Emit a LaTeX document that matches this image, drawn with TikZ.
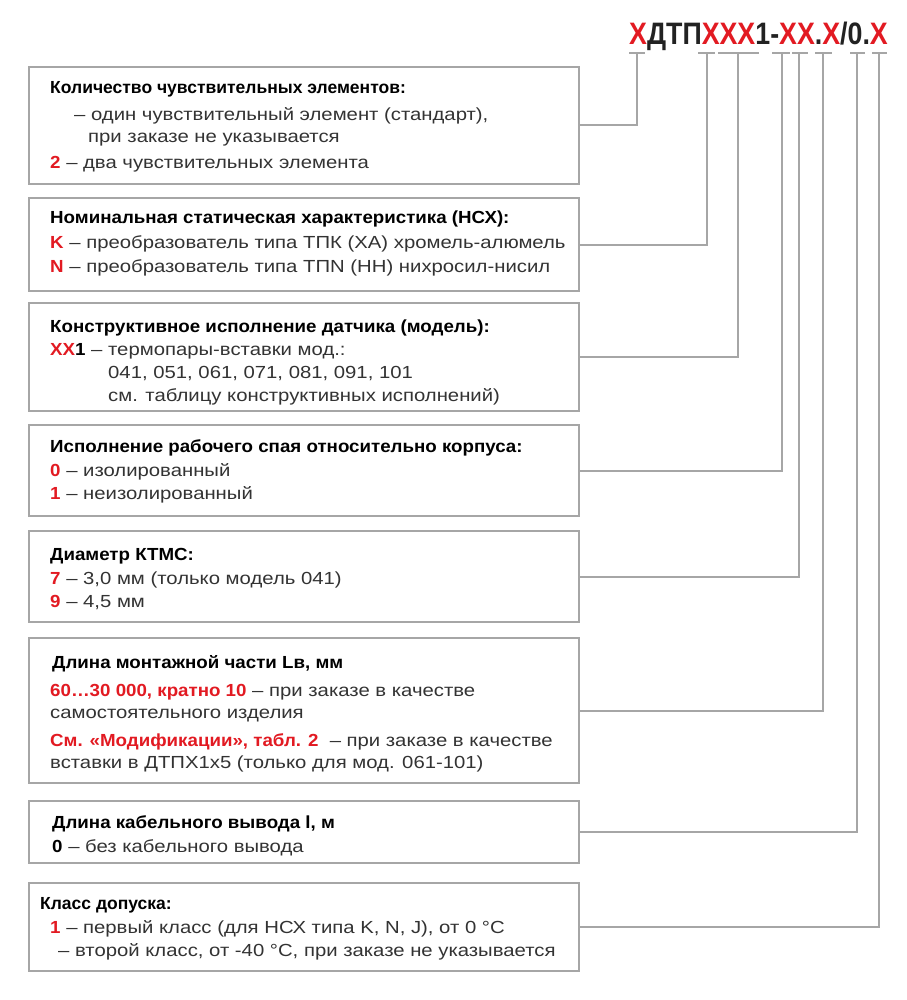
\documentclass[tikz,border=0pt]{standalone}
\usepackage{fontspec}
\setmainfont{Liberation Sans}
\newfontfamily\bodyf{Liberation Sans}[FakeStretch=1.16]
\newfontfamily\boldf{Liberation Sans}[FakeStretch=1.07]
\usepackage{graphicx}
\definecolor{boxgray}{RGB}{166,166,166}
\definecolor{bodygray}{RGB}{51,51,51}
\definecolor{codered}{RGB}{226,26,34}
\definecolor{titledark}{RGB}{34,34,34}
\newcommand{\fs}{\fontsize{17.5}{20}\selectfont}
\newcommand{\rd}[1]{\textcolor{codered}{\boldf\fs\bfseries #1}}
\newcommand{\bk}[1]{\textcolor{black}{\boldf\fs\bfseries #1}}
\begin{document}
\begin{tikzpicture}[x=1pt,y=-1pt,
  box/.style={draw=boxgray, line width=2pt, rectangle, inner sep=0, anchor=north west, minimum width=550pt},
  txt/.style={anchor=base west, inner sep=0, font=\fs\bodyf, text=bodygray},
  hd/.style={anchor=base west, inner sep=0, font=\fs\boldf\bfseries, text=black},
  hdn/.style={anchor=base west, inner sep=0, font=\fs\bfseries, text=black},
  conn/.style={draw=boxgray, line width=2pt}]
\useasboundingbox (0,0) rectangle (906,1000);
\fill[white] (0,0) rectangle (906,1000);

% title
\node[anchor=base west, inner sep=0, text=titledark] (title) at (629,45)
  {\scalebox{0.864}[1]{\fontsize{31}{31}\selectfont\bfseries \textcolor{codered}{Х}ДТП\textcolor{codered}{ХХХ}1-\textcolor{codered}{ХХ}.\textcolor{codered}{Х}/0.\textcolor{codered}{Х}}};

% underline segments
\foreach \a/\b/\n in {629/645/1, 698/715/2, 718/759/3, 772/790/4, 792/808/5, 815/832/6, 850/865/7, 872/887/8}{
  \coordinate (sa\n) at (\a,53);
  \coordinate (sb\n) at (\b,53);
  \draw[conn] (sa\n) -- (sb\n);
}
\foreach \x/\n in {637/1, 707/2, 738/3, 782/4, 799/5, 823/6, 857/7, 879/8}{
  \coordinate (u\n) at (\x,53);
}

% boxes
\node[box, minimum height=117pt] (b1) at (28,66) {};
\node[box, minimum height=93pt] (b2) at (28,197) {};
\node[box, minimum height=108pt] (b3) at (28,302) {};
\node[box, minimum height=91pt] (b4) at (28,424) {};
\node[box, minimum height=91pt] (b5) at (28,530) {};
\node[box, minimum height=145pt] (b6) at (28,637) {};
\node[box, minimum height=62pt] (b7) at (28,800) {};
\node[box, minimum height=88pt] (b8) at (28,882) {};

% connectors
\foreach \n in {1,...,8}{
  \draw[conn] (b\n.east) -| (u\n);
}

% box 1
\node[hdn] (t11) at (50,94) {Количество чувствительных элементов:};
\node[txt] (t12) at (74,121) {– один чувствительный элемент (стандарт),};
\node[txt] (t13) at (88,143) {при заказе не указывается};
\node[txt] (t14) at (50,169) {\rd{2} – два чувствительных элемента};

% box 2
\node[hd] (t21) at (50,224) {Номинальная статическая характеристика (НСХ):};
\node[txt] (t22) at (50,248) {\rd{K} – преобразователь типа ТПК (ХА) хромель-алюмель};
\node[txt] (t23) at (50,272) {\rd{N} – преобразователь типа ТПN (НН) нихросил-нисил};

% box 3
\node[hd] (t31) at (50,332) {Конструктивное исполнение датчика (модель):};
\node[txt] (t32) at (50,355) {\rd{ХХ}\bk{1} – термопары-вставки мод.:};
\node[txt] (t33) at (108,378) {041, 051, 061, 071, 081, 091, 101};
\node[txt] (t34) at (108,401) {см. таблицу конструктивных исполнений)};

% box 4
\node[hd] (t41) at (50,452) {Исполнение рабочего спая относительно корпуса:};
\node[txt] (t42) at (50,476) {\rd{0} – изолированный};
\node[txt] (t43) at (50,499) {\rd{1} – неизолированный};

% box 5
\node[hd] (t51) at (50,560) {Диаметр КТМС:};
\node[txt] (t52) at (50,584) {\rd{7} – 3,0 мм (только модель 041)};
\node[txt] (t53) at (50,607) {\rd{9} – 4,5 мм};

% box 6
\node[hd] (t61) at (52,668) {Длина монтажной части Lв, мм};
\node[txt] (t62) at (50,696) {\rd{60…30 000, кратно 10} – при заказе в качестве};
\node[txt] (t63) at (50,718) {самостоятельного изделия};
\node[txt] (t64) at (50,746) {\rd{См. «Модификации», табл. 2} \ – при заказе в качестве};
\node[txt] (t65) at (50,768) {вставки в ДТПХ1х5 (только для мод. 061-101)};

% box 7
\node[hd] (t71) at (52,828) {Длина кабельного вывода l, м};
\node[txt] (t72) at (52,852) {\bk{0} – без кабельного вывода};

% box 8
\node[hdn] (t81) at (40,909) {Класс допуска:};
\node[txt] (t82) at (50,933) {\rd{1} – первый класс (для НСХ типа K, N, J), от 0 °C};
\node[txt] (t83) at (58,956) {– второй класс, от -40 °C, при заказе не указывается};
\end{tikzpicture}
\end{document}
